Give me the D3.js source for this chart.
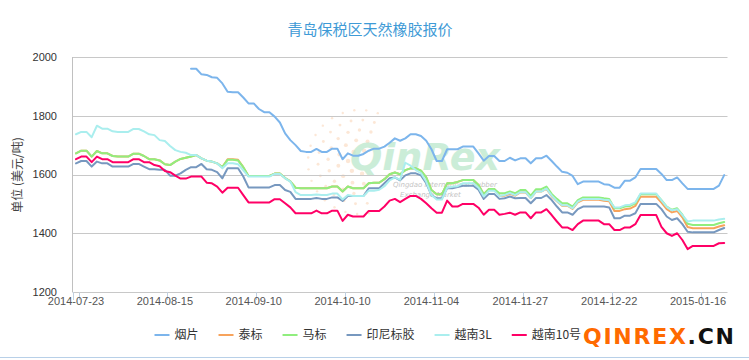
<!DOCTYPE html>
<html><head><meta charset="utf-8">
<script src="https://cdn.jsdelivr.net/npm/d3@7"></script>
<style>body{margin:0;background:#fff}svg{display:block}</style>
</head><body><svg id="c" width="749" height="360"></svg>
<script>
const categories = [
"2014-07-23","2014-07-24","2014-07-25","2014-07-28","2014-07-29","2014-07-30","2014-07-31",
"2014-08-01","2014-08-04","2014-08-05","2014-08-06","2014-08-07","2014-08-08","2014-08-11","2014-08-12","2014-08-13","2014-08-14","2014-08-15",
"2014-08-18","2014-08-19","2014-08-20","2014-08-21","2014-08-22","2014-08-25","2014-08-26","2014-08-27","2014-08-28","2014-08-29",
"2014-09-01","2014-09-02","2014-09-03","2014-09-04","2014-09-05","2014-09-09","2014-09-10",
"2014-09-11","2014-09-12","2014-09-15","2014-09-16","2014-09-17","2014-09-18","2014-09-19","2014-09-22","2014-09-23","2014-09-24","2014-09-25","2014-09-26","2014-09-29","2014-09-30","2014-10-08","2014-10-09","2014-10-10",
"2014-10-13","2014-10-14","2014-10-15","2014-10-16","2014-10-17","2014-10-20","2014-10-21","2014-10-22","2014-10-23","2014-10-24","2014-10-27","2014-10-28","2014-10-29","2014-10-30","2014-10-31","2014-11-03","2014-11-04",
"2014-11-05","2014-11-06","2014-11-07","2014-11-10","2014-11-11","2014-11-12","2014-11-13","2014-11-14","2014-11-17","2014-11-18","2014-11-19","2014-11-20","2014-11-21","2014-11-24","2014-11-25","2014-11-26","2014-11-27",
"2014-11-28","2014-12-01","2014-12-02","2014-12-03","2014-12-04","2014-12-05","2014-12-08","2014-12-09","2014-12-10","2014-12-11","2014-12-12","2014-12-15","2014-12-16","2014-12-17","2014-12-18","2014-12-19","2014-12-22",
"2014-12-23","2014-12-24","2014-12-25","2014-12-26","2014-12-29","2014-12-30","2014-12-31","2015-01-05","2015-01-06","2015-01-07","2015-01-08","2015-01-09","2015-01-12","2015-01-13","2015-01-14","2015-01-15","2015-01-16",
"2015-01-19","2015-01-20","2015-01-21","2015-01-22","2015-01-23"];

const tickLabels = ["2014-07-23","2014-08-15","2014-09-10","2014-10-10","2014-11-04","2014-11-27","2014-12-22","2015-01-16"];
const yTicks = [1200, 1400, 1600, 1800, 2000];

const yanpian = [
null,null,null,null,null,null,null,null,null,null,
null,null,null,null,null,null,null,null,null,null,
null,null,1960,1960,1941,1939,1931,1929,1910,1882,
1880,1880,1862,1842,1842,1823,1812,1812,1797,1777,
1740,1717,1700,1680,1677,1677,1687,1677,1677,1688,
1688,1652,1672,1664,1664,1670,1681,1688,1688,1695,
1708,1723,1715,1723,1737,1737,1731,1715,1686,1646,
1646,1686,1686,1686,1695,1695,1695,1672,1647,1663,
1663,1646,1646,1657,1648,1655,1655,1638,1655,1655,
1664,1646,1627,1609,1606,1595,1567,1576,1576,1576,
1576,1567,1565,1555,1555,1579,1579,1590,1619,1619,
1619,1619,1602,1581,1581,1590,1570,1551,1551,1551,
1551,1551,1551,1562,1598];

const mabiao = [
1672,1681,1681,1661,1680,1672,1672,1663,1661,1661,
1661,1671,1671,1663,1652,1652,1648,1635,1632,1644,
1653,1657,1661,1666,1655,1647,1644,1638,1625,1650,
1650,1648,1625,1595,1595,1595,1595,1595,1603,1603,
1588,1577,1555,1553,1553,1553,1553,1553,1553,1559,
1559,1542,1559,1553,1553,1553,1570,1572,1572,1584,
1601,1607,1601,1615,1621,1621,1613,1590,1547,1533,
1533,1570,1570,1575,1581,1581,1581,1564,1533,1551,
1551,1536,1536,1542,1536,1547,1547,1528,1550,1550,
1559,1534,1517,1502,1502,1491,1513,1522,1522,1522,
1522,1519,1517,1485,1485,1491,1493,1502,1533,1533,
1533,1533,1513,1491,1480,1485,1463,1432,1428,1428,
1428,1428,1428,1434,1438];

const taibiao = [
1672,1681,1681,1661,1680,1672,1672,1663,1661,1661,
1661,1671,1671,1663,1652,1652,1648,1635,1632,1644,
1653,1657,1661,1666,1655,1647,1644,1638,1625,1652,
1652,1650,1625,1595,1595,1595,1595,1595,1603,1603,
1588,1577,1555,1553,1553,1553,1553,1553,1553,1559,
1559,1542,1559,1553,1553,1553,1570,1572,1572,1584,
1601,1607,1601,1615,1621,1621,1613,1590,1547,1533,
1533,1570,1570,1575,1581,1581,1581,1564,1533,1551,
1551,1528,1528,1534,1528,1539,1539,1520,1542,1542,
1551,1526,1509,1494,1494,1483,1505,1514,1514,1514,
1514,1511,1509,1476,1476,1482,1484,1493,1524,1524,
1524,1524,1504,1482,1471,1476,1454,1421,1417,1417,
1417,1417,1417,1423,1427];

const yinni = [
1638,1646,1646,1627,1644,1638,1638,1627,1627,1627,
1627,1636,1636,1627,1618,1618,1616,1616,1596,1596,
1604,1616,1625,1625,1636,1618,1616,1608,1587,1621,
1621,1621,1593,1556,1556,1556,1556,1556,1564,1564,
1547,1541,1517,1517,1517,1517,1520,1517,1517,1522,
1522,1510,1527,1527,1527,1527,1553,1553,1553,1570,
1587,1590,1580,1597,1604,1604,1597,1570,1530,1519,
1519,1553,1553,1557,1562,1562,1562,1548,1517,1534,
1534,1517,1519,1525,1519,1520,1520,1502,1520,1520,
1530,1513,1491,1471,1471,1463,1482,1491,1491,1491,
1491,1491,1488,1451,1451,1460,1460,1468,1500,1500,
1500,1500,1482,1457,1445,1451,1431,1405,1403,1403,
1403,1403,1403,1411,1418];

const yuenan3L = [
1737,1745,1745,1727,1766,1756,1756,1747,1745,1745,
1745,1755,1755,1747,1737,1734,1717,1714,1697,1683,
1677,1674,1666,1666,1655,1647,1644,1638,1621,1638,
1638,1635,1614,1593,1593,1593,1593,1593,1602,1602,
1587,1576,1540,1530,1530,1530,1532,1530,1530,1535,
1535,1515,1530,1527,1527,1527,1545,1545,1548,1560,
1580,1590,1582,1640,1630,1615,1605,1575,1530,1515,
1515,1555,1558,1560,1570,1570,1570,1555,1525,1545,
1545,1527,1530,1537,1530,1540,1540,1520,1542,1542,
1552,1528,1510,1495,1495,1485,1508,1517,1517,1517,
1517,1514,1512,1488,1488,1495,1497,1505,1535,1535,
1535,1535,1512,1490,1478,1482,1462,1440,1443,1443,
1443,1443,1443,1447,1449];

const yuenan10 = [
1652,1661,1661,1642,1661,1652,1652,1642,1642,1642,
1642,1652,1652,1642,1642,1632,1628,1612,1608,1596,
1586,1586,1593,1593,1593,1572,1570,1559,1538,1555,
1555,1555,1530,1505,1505,1505,1505,1505,1516,1516,
1502,1488,1468,1468,1468,1468,1477,1468,1468,1477,
1477,1442,1463,1457,1457,1457,1476,1476,1476,1491,
1511,1517,1506,1517,1527,1527,1517,1502,1485,1470,
1470,1511,1491,1491,1500,1500,1500,1487,1463,1480,
1480,1463,1466,1470,1463,1471,1471,1451,1471,1471,
1482,1462,1440,1420,1420,1411,1431,1443,1443,1443,
1443,1431,1431,1411,1411,1420,1420,1431,1462,1462,
1462,1462,1422,1400,1391,1400,1377,1346,1357,1357,
1357,1357,1357,1366,1367];

const seriesNames = ["烟片","泰标","马标","印尼标胶","越南3L","越南10号"];
const seriesData = [yanpian, taibiao, mabiao, yinni, yuenan3L, yuenan10];
const seriesColors = ["#7cb5ec","#f7a35c","#90ee7e","#7798bf","#aaeeee","#ff0066"];

const FONT = "'Noto Sans CJK SC','Noto Sans',sans-serif";
const svg = d3.select("#c").style("font-family", FONT);

const x = d3.scaleBand().domain(categories).range([73.4, 726.8]);
const bw = x.bandwidth();
const cx = c => x(c) + bw / 2;
const y = d3.scaleLinear().domain([1200, 2000]).range([292, 57]);

// watermark
const wm = svg.append("g").attr("class", "watermark");
const rings = [12, 22, 32, 42, 52];
rings.forEach((r, ri) => {
  const n = Math.round(r / 3.2);
  for (let k = 0; k <= n; k++) {
    const a = (70 + (210 * k) / n) * Math.PI / 180;
    wm.append("circle")
      .attr("cx", 360 + r * Math.cos(a))
      .attr("cy", 162 - r * Math.sin(a))
      .attr("r", 2.2 - ri * 0.25)
      .attr("fill", "#f9c9a4").attr("opacity", 0.45);
  }
});
wm.append("text").attr("x", 350).attr("y", 170)
  .attr("font-family", "'DejaVu Sans',sans-serif").attr("font-size", 38)
  .attr("font-style", "italic").attr("font-weight", "bold")
  .attr("fill", "#b6e6c8").attr("opacity", 0.7).text("QinRex");
wm.append("text").attr("x", 393).attr("y", 187)
  .attr("font-family", "'DejaVu Sans',sans-serif").attr("font-size", 7).attr("font-style", "italic")
  .attr("fill", "#c4c4c4").text("Qingdao International Rubber");
wm.append("text").attr("x", 400).attr("y", 197)
  .attr("font-family", "'DejaVu Sans',sans-serif").attr("font-size", 7).attr("font-style", "italic")
  .attr("fill", "#c4c4c4").text("Exchange Market");

// grid
svg.append("g").selectAll("line").data(yTicks).join("line")
  .attr("x1", 73).attr("x2", 727.5)
  .attr("y1", d => Math.round(y(d)) + 0.5).attr("y2", d => Math.round(y(d)) + 0.5)
  .attr("stroke", "#c8c8c8").attr("stroke-width", 1);

// y axis line
svg.append("line").attr("x1", 72.5).attr("x2", 72.5).attr("y1", 57).attr("y2", 292.5)
  .attr("stroke", "#c0c0c0");

// y labels
svg.append("g").selectAll("text").data(yTicks).join("text")
  .attr("x", 57).attr("y", d => y(d)).attr("dy", "0.35em")
  .attr("text-anchor", "end").attr("font-size", 11)
  .attr("font-family", "'Liberation Sans',Arial,sans-serif")
  .attr("fill", "#333").text(d => d);

// y title
svg.append("text").attr("transform", "translate(22,175) rotate(-90)")
  .attr("text-anchor", "middle").attr("font-size", 12).attr("fill", "#444")
  .text("单位 (美元/吨)");

// x ticks
const tickXs = [73.4].concat(tickLabels.map(t => cx(t) + bw / 2));
svg.append("g").selectAll("line").data(tickXs).join("line")
  .attr("x1", d => Math.round(d) + 0.5).attr("x2", d => Math.round(d) + 0.5)
  .attr("y1", 292).attr("y2", 300)
  .attr("stroke", "#c0d0e0");

// x labels
svg.append("g").selectAll("text").data(tickLabels).join("text")
  .attr("x", d => cx(d)).attr("y", 305)
  .attr("text-anchor", "middle").attr("font-size", 11)
  .attr("font-family", "'Liberation Sans',Arial,sans-serif")
  .attr("fill", "#555").text(d => d);

// lines
const line = d3.line().defined(d => d[1] != null)
  .x(d => cx(d[0])).y(d => y(d[1]));
seriesData.forEach((arr, si) => {
  svg.append("path")
    .datum(categories.map((c, i) => [c, arr[i]]))
    .attr("d", line).attr("fill", "none")
    .attr("stroke", seriesColors[si]).attr("stroke-width", 2)
    .attr("stroke-linejoin", "round").attr("stroke-linecap", "round");
});

// title
svg.append("text").attr("x", 370).attr("y", 30).attr("dy", "0.35em")
  .attr("text-anchor", "middle").attr("font-size", 15)
  .attr("fill", "#3e9ad6").text("青岛保税区天然橡胶报价");

// legend
const lg = svg.append("g");
let lx = 154.5;
const ly = 335;
seriesNames.forEach((nm, i) => {
  lg.append("line").attr("x1", lx).attr("x2", lx + 15).attr("y1", ly).attr("y2", ly)
    .attr("stroke", seriesColors[i]).attr("stroke-width", 2);
  const t = lg.append("text").attr("x", lx + 20).attr("y", ly).attr("dy", "0.35em")
    .attr("font-size", 12).attr("fill", "#333").text(nm);
  lx += 20 + t.node().getComputedTextLength() + 20;
});

// brand
const br = svg.append("text").attr("x", 583).attr("y", 344)
  .attr("font-family", "'DejaVu Sans',sans-serif").attr("font-size", 22).attr("font-weight", "bold")
  .attr("textLength", 151).attr("lengthAdjust", "spacing");
br.append("tspan").attr("fill", "#ff6a00").text("QINREX");
br.append("tspan").attr("fill", "#111").text(".CN");

// bottom border
svg.append("line").attr("x1", 0).attr("x2", 749).attr("y1", 357.5).attr("y2", 357.5)
  .attr("stroke", "#b8d0e8");
</script></body></html>
